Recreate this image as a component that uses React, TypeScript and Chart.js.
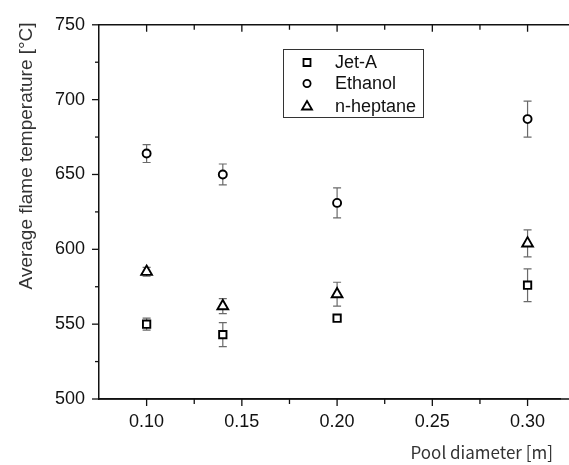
import React, { useEffect, useRef } from 'react';
import { Chart, registerables } from 'chart.js';

Chart.register(...registerables);

// ---- data ----
const diameters = [0.10, 0.14, 0.20, 0.30];
const jetA = [550, 543, 554, 576];
const jetAErr = [4, 8, 2, 11];
const ethanol = [664, 650, 631, 687];
const ethanolErr = [6, 7, 10, 12];
const heptane = [585, 562, 570, 604];
const heptaneErr = [3, 5, 8, 9];
const seriesNames = ['Jet-A', 'Ethanol', 'n-heptane'];
const xTicks = [0.10, 0.15, 0.20, 0.25, 0.30];
const yTicks = [500, 550, 600, 650, 700, 750];
const xTitle = 'Pool diameter [m]';
const yTitle = 'Average flame temperature [°C]';

const W = 569;
const H = 465;

const errorSets = [jetAErr, ethanolErr, heptaneErr];
const valueSets = [jetA, ethanol, heptane];
const styles = ['rect', 'circle', 'triangle'];
const radii = [5.2, 4, 6.2];

const errorBarPlugin = {
  id: 'errorBars',
  beforeDatasetsDraw(chart: any) {
    const ctx = chart.ctx;
    const ys = chart.scales.y;
    ctx.save();
    ctx.strokeStyle = '#6a6a6a';
    ctx.lineWidth = 1.2;
    chart.data.datasets.forEach((ds: any, i: number) => {
      const meta = chart.getDatasetMeta(i);
      meta.data.forEach((pt: any, j: number) => {
        const v = valueSets[i][j];
        const e = errorSets[i][j];
        const x = pt.x;
        const yT = ys.getPixelForValue(v + e);
        const yB = ys.getPixelForValue(v - e);
        ctx.beginPath();
        ctx.moveTo(x, yT);
        ctx.lineTo(x, yB);
        ctx.moveTo(x - 4, yT);
        ctx.lineTo(x + 4, yT);
        ctx.moveTo(x - 4, yB);
        ctx.lineTo(x + 4, yB);
        ctx.stroke();
      });
    });
    ctx.restore();
  },
};

function drawMarker(ctx: CanvasRenderingContext2D, style: string, x: number, y: number) {
  ctx.beginPath();
  if (style === 'rect') {
    ctx.rect(x - 3.5, y - 3.5, 7, 7);
  } else if (style === 'circle') {
    ctx.arc(x, y, 3.6, 0, Math.PI * 2);
  } else {
    ctx.moveTo(x, y - 5);
    ctx.lineTo(x + 5, y + 3.5);
    ctx.lineTo(x - 5, y + 3.5);
    ctx.closePath();
  }
  ctx.fillStyle = '#fff';
  ctx.fill();
  ctx.stroke();
}

const decorPlugin = {
  id: 'decor',
  afterDraw(chart: any) {
    const ctx = chart.ctx as CanvasRenderingContext2D;
    const { left, right, top, bottom } = chart.chartArea;
    const xs = chart.scales.x;
    const ys = chart.scales.y;
    ctx.save();
    ctx.strokeStyle = '#111';
    ctx.lineWidth = 1.5;
    // top and bottom axis lines (extend to the canvas edge)
    ctx.beginPath();
    ctx.moveTo(left, top);
    ctx.lineTo(W, top);
    ctx.moveTo(left, bottom);
    ctx.lineTo(W, bottom);
    ctx.stroke();
    // x ticks
    const xAll: { v: number; major: boolean }[] = [];
    xTicks.forEach((t, i) => {
      xAll.push({ v: t, major: true });
      if (i < xTicks.length - 1) xAll.push({ v: (t + xTicks[i + 1]) / 2, major: false });
    });
    ctx.lineWidth = 1.3;
    xAll.forEach(({ v, major }) => {
      const px = xs.getPixelForValue(v);
      if (px <= left + 1 || px > W) return;
      const len = major ? 7 : 5;
      ctx.beginPath();
      ctx.moveTo(px, bottom);
      ctx.lineTo(px, bottom + len);
      ctx.moveTo(px, top);
      ctx.lineTo(px, top + len);
      ctx.stroke();
    });
    // y ticks
    yTicks.forEach((t, i) => {
      const py = ys.getPixelForValue(t);
      ctx.beginPath();
      ctx.moveTo(left, py);
      ctx.lineTo(left - 7, py);
      ctx.stroke();
      if (i < yTicks.length - 1) {
        const pm = ys.getPixelForValue((t + yTicks[i + 1]) / 2);
        ctx.beginPath();
        ctx.moveTo(left, pm);
        ctx.lineTo(left - 4, pm);
        ctx.stroke();
      }
    });
    // titles
    ctx.fillStyle = '#333';
    ctx.font = '19px "Liberation Sans", Arial, sans-serif';
    ctx.save();
    ctx.translate(27, (top + bottom) / 2 - 56);
    ctx.rotate(-Math.PI / 2);
    ctx.textAlign = 'center';
    ctx.textBaseline = 'middle';
    ctx.fillText(yTitle, 0, 0);
    ctx.restore();
    ctx.font = '17px "Noto Sans CJK JP", "Noto Sans", sans-serif';
    ctx.textAlign = 'right';
    ctx.textBaseline = 'alphabetic';
    ctx.fillText(xTitle, 553, 459);
    // legend
    const bx = 283, by = 49, bw = 140, bh = 68;
    ctx.strokeStyle = '#333';
    ctx.lineWidth = 1;
    ctx.strokeRect(bx + 0.5, by + 0.5, bw, bh);
    const rows = [62.5, 83.5, 106];
    ctx.font = '18px "Liberation Sans", Arial, sans-serif';
    ctx.textAlign = 'left';
    ctx.textBaseline = 'middle';
    seriesNames.forEach((name, i) => {
      ctx.strokeStyle = '#000';
      ctx.lineWidth = 1.8;
      drawMarker(ctx, styles[i], 307, rows[i]);
      ctx.fillStyle = '#111';
      ctx.fillText(name, 335, rows[i] + 1);
    });
    ctx.restore();
  },
};

export default function App() {
  const ref = useRef<HTMLCanvasElement | null>(null);
  useEffect(() => {
    if (!ref.current) return;
    const datasets = valueSets.map((vals, i) => ({
      label: seriesNames[i],
      data: diameters.map((d, j) => ({ x: d, y: vals[j] })),
      pointStyle: styles[i],
      pointRadius: radii[i],
      pointBorderWidth: 1.9,
      pointBorderColor: '#000',
      pointBackgroundColor: '#fff',
      showLine: false,
    }));
    const chart = new Chart(ref.current, {
      type: 'scatter',
      data: { datasets },
      options: {
        animation: false,
        responsive: false,
        devicePixelRatio: 1,
        layout: { padding: { top: 20, right: 0, left: 0, bottom: 0 } },
        plugins: { legend: { display: false }, tooltip: { enabled: false }, title: { display: false } },
        scales: {
          x: {
            type: 'linear',
            min: 0.075,
            max: 0.3175,
            afterFit: (s: any) => { s.height = 66; },
            grid: { display: false, drawTicks: false },
            border: { display: true, color: '#111', width: 1.5 },
            ticks: {
              stepSize: 0.05,
              includeBounds: false,
              autoSkip: false,
              maxRotation: 0,
              padding: 12,
              color: '#111',
              font: { family: '"Liberation Sans", Arial, sans-serif', size: 18 },
              callback: (v: any) => Number(v).toFixed(2),
            },
          },
          y: {
            type: 'linear',
            min: 500,
            max: 750,
            afterFit: (s: any) => { s.width = 99; },
            grid: { display: false, drawTicks: false },
            border: { display: true, color: '#111', width: 1.5 },
            ticks: {
              stepSize: 50,
              padding: 14,
              color: '#111',
              font: { family: '"Liberation Sans", Arial, sans-serif', size: 18 },
            },
          },
        },
      },
      plugins: [errorBarPlugin, decorPlugin],
    } as any);
    return () => chart.destroy();
  }, []);
  return (
    <div style={{ position: 'fixed', left: 0, top: 0, width: W, height: H, background: '#fff' }}>
      <canvas ref={ref} width={W} height={H} style={{ width: W, height: H, display: 'block' }} />
    </div>
  );
}
